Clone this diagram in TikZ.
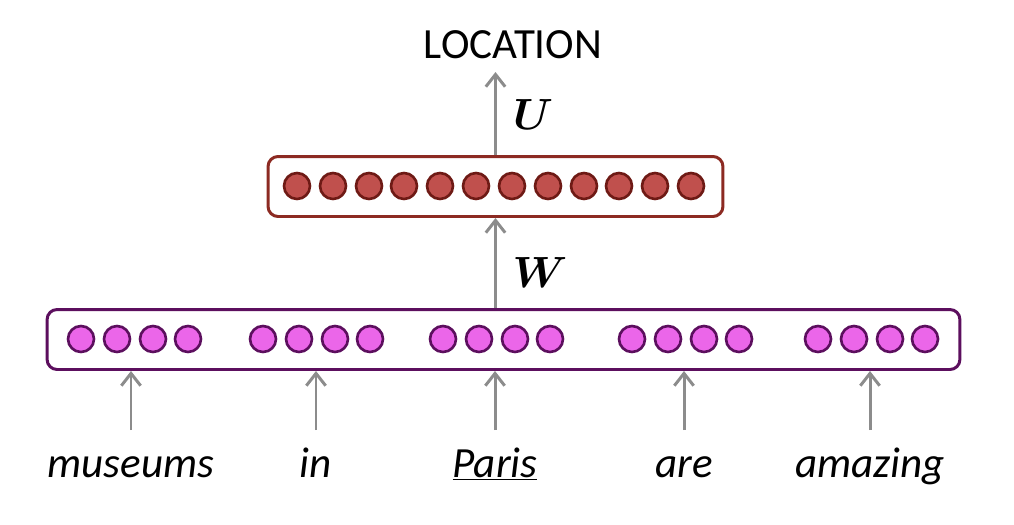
\documentclass[tikz,border=0pt]{standalone}
\usepackage{fontspec}
\setmainfont{Carlito}
\usepackage{bm}
\usetikzlibrary{arrows.meta}
\definecolor{hidfill}{HTML}{C0504D}
\definecolor{hiddraw}{HTML}{6E1A15}
\definecolor{hidbox}{HTML}{8C2A22}
\definecolor{embfill}{HTML}{EB66E9}
\definecolor{embdraw}{HTML}{5C0F5E}
\definecolor{arrgray}{HTML}{8C8C8C}
\tikzset{
  hid/.style={circle,draw=hiddraw,fill=hidfill,line width=1.5pt,minimum size=0.52cm,inner sep=0},
  emb/.style={circle,draw=embdraw,fill=embfill,line width=1.5pt,minimum size=0.52cm,inner sep=0},
  layer/.style={rounded corners=0.2cm,line width=1.7pt,minimum height=1.2cm,inner sep=0},
  arr/.style={-{Straight Barb[length=7pt,width=11pt]},draw=arrgray,line width=1.7pt},
  word/.style={font=\fontsize{24.5}{29}\selectfont\itshape,anchor=base,inner sep=0},
  mat/.style={font=\fontsize{25}{30}\selectfont,inner sep=0}
}
\begin{document}
\begin{tikzpicture}[x=0.02cm,y=-0.02cm]
      \useasboundingbox (0,0) rectangle (1014,524);
      \node[layer,draw=hidbox,minimum width=9.1cm] (hidden) at (495.5,186.5) {};
      \node[layer,draw=embdraw,minimum width=18.26cm] (embed) at (503.5,339.5) {};
      \draw
        (297,186) node[hid] (h1){}
        (333,186) node[hid] (h2){}
        (369,186) node[hid] (h3){}
        (404,186) node[hid] (h4){}
        (440,186) node[hid] (h5){}
        (476,186) node[hid] (h6){}
        (512,186) node[hid] (h7){}
        (548,186) node[hid] (h8){}
        (584,186) node[hid] (h9){}
        (619,186) node[hid] (h10){}
        (655,186) node[hid] (h11){}
        (691,186) node[hid] (h12){};
      \draw
        (81,339) node[emb] (e1){}
        (117,339) node[emb] (e2){}
        (153,339) node[emb] (e3){}
        (188,339) node[emb] (e4){}
        (263,339) node[emb] (e5){}
        (299,339) node[emb] (e6){}
        (335,339) node[emb] (e7){}
        (370,339) node[emb] (e8){}
        (443,339) node[emb] (e9){}
        (479,339) node[emb] (e10){}
        (515,339) node[emb] (e11){}
        (550,339) node[emb] (e12){}
        (632,339) node[emb] (e13){}
        (668,339) node[emb] (e14){}
        (704,339) node[emb] (e15){}
        (739,339) node[emb] (e16){}
        (818,339) node[emb] (e17){}
        (854,339) node[emb] (e18){}
        (890,339) node[emb] (e19){}
        (925,339) node[emb] (e20){};
      \draw
        (131,477) node[word] (museums){museums}
        (316,477) node[word] (in){in}
        (495,477) node[word] (paris){\underline{Paris}}
        (684,477) node[word] (are){are}
        (870,477) node[word] (amazing){amazing}
        (513,58) node[anchor=base,inner sep=0,font=\fontsize{24.5}{29}\selectfont] (loc){LOCATION}
        (540,272) node[mat] (wlab){$\bm{W}$}
        (533,115) node[mat] (ulab){$\bm{U}$};
      \path (hidden.north |- loc.base) ++(0,14) coordinate (utip);
      \begin{scope}[arr]
        \draw ([yshift=0.94cm]museums.base) to (museums.base |- embed.south);
        \draw ([yshift=0.94cm]in.base) to (in.base |- embed.south);
        \draw ([yshift=0.94cm]paris.base) to (paris.base |- embed.south);
        \draw ([yshift=0.94cm]are.base) to (are.base |- embed.south);
        \draw ([yshift=0.94cm]amazing.base) to (amazing.base |- embed.south);
        \draw (hidden.south |- embed.north) to (hidden.south);
        \draw (hidden.north) to (utip);
      \end{scope}
    \end{tikzpicture}
\end{document}
